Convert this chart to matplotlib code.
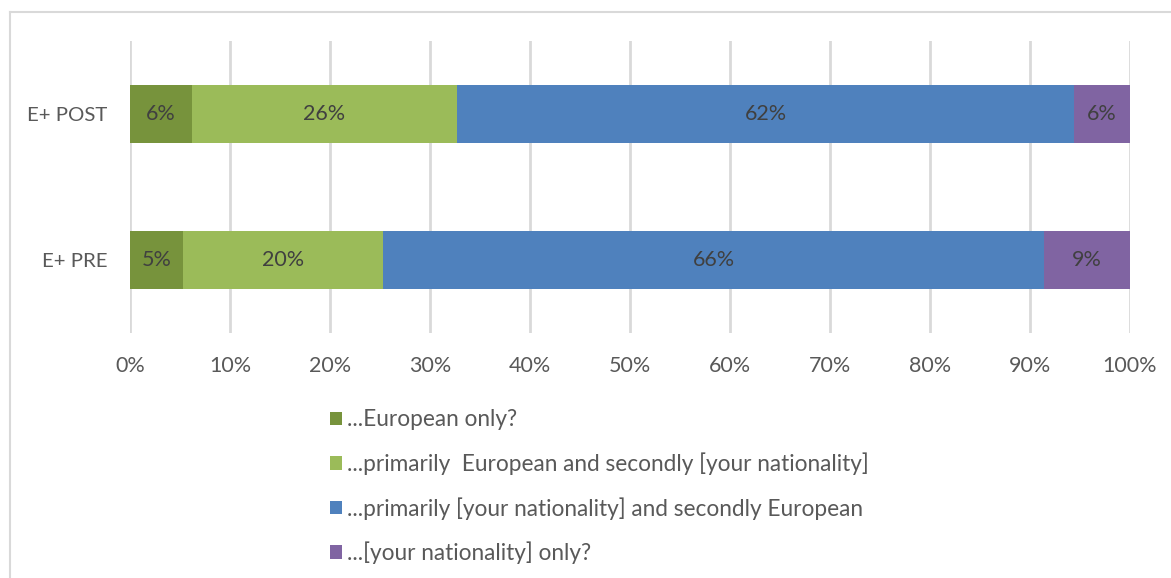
import matplotlib
matplotlib.use("Agg")
import matplotlib.pyplot as plt
from matplotlib.lines import Line2D
from matplotlib.patches import Patch

# Survey groups (bottom to top) and answer shares in percent
groups = ["E+ PRE", "E+ POST"]
series_names = [
    "...European only?",
    "...primarily  European and secondly [your nationality]",
    "...primarily [your nationality] and secondly European",
    "...[your nationality] only?",
]
european_only = [5.3, 6.2]
primarily_european = [20.0, 26.5]
primarily_national = [66.1, 61.7]
national_only = [8.6, 5.6]
x_ticks = [0, 10, 20, 30, 40, 50, 60, 70, 80, 90, 100]

colors = ["#77933C", "#9BBB59", "#4F81BD", "#8064A2"]
plt.rcParams["font.family"] = ["Lato", "DejaVu Sans"]

W, H = 1171, 578
fig = plt.figure(figsize=(W / 100, H / 100), dpi=100)
ax = fig.add_axes([130 / W, 1 - 333 / H, 1000 / W, 292 / H])

series = [european_only, primarily_european, primarily_national, national_only]
ypos = list(range(len(groups)))
left = [0.0] * len(groups)
for vals, col in zip(series, colors):
    ax.barh(ypos, vals, left=left, height=0.4, color=col,
            edgecolor="none", zorder=3)
    for y, l, v in zip(ypos, left, vals):
        ax.text(l + v / 2, y, f"{round(v):.0f}%", ha="center", va="center",
                fontsize=15.5, color="#404040", zorder=4)
    left = [a + b for a, b in zip(left, vals)]

ax.set_xlim(0, 100)
ax.set_ylim(-0.5, 1.5)
ax.set_xticks(x_ticks)
ax.set_xticklabels([f"{t}%" for t in x_ticks])
ax.set_yticks(ypos)
ax.set_yticklabels(groups)
ax.tick_params(axis="both", length=0, labelcolor="#595959")
ax.tick_params(axis="x", pad=16.5, labelsize=15.5)
ax.tick_params(axis="y", pad=16.5, labelsize=14.7)
ax.grid(axis="x", color="#D9D9D9", linewidth=2, zorder=0)
for s in ax.spines.values():
    s.set_visible(False)

# Legend below the plot
handles = [Patch(facecolor=c, edgecolor="none") for c in colors]
fig.legend(handles, series_names, loc="upper left",
           bbox_to_anchor=(310 / W, 1 - 389 / H), frameon=False,
           fontsize=16.3, labelcolor="#595959", handlelength=0.5,
           handleheight=0.55, handletextpad=0.25, labelspacing=0.97)

# Outer frame (top and left edges)
fig.add_artist(Line2D([10 / W, 1], [1 - 12 / H, 1 - 12 / H],
                      transform=fig.transFigure, color="#D9D9D9", linewidth=1.5))
fig.add_artist(Line2D([10 / W, 10 / W], [0, 1 - 12 / H],
                      transform=fig.transFigure, color="#D9D9D9", linewidth=1.5))

fig.savefig("out.png", dpi=100)
